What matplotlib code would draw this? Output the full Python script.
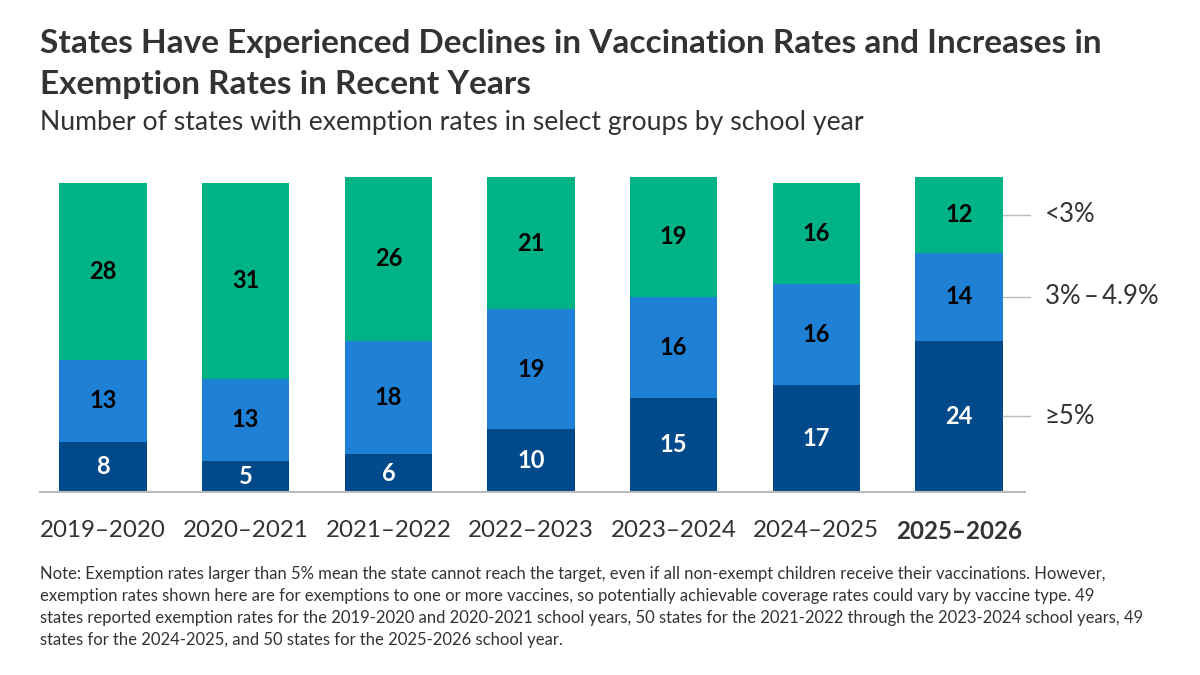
import matplotlib.pyplot as plt
import numpy as np

years = ['2019–2020', '2020–2021', '2021–2022', '2022–2023', '2023–2024', '2024–2025', '2025–2026']
ge5 = [8, 5, 6, 10, 15, 17, 24]
mid = [13, 13, 18, 19, 16, 16, 14]
lt3 = [28, 31, 26, 21, 19, 16, 12]
group_labels = ['≥5%', '3%\u2009–\u20094.9%', '<3%']
colors = ['#00498a', '#1f81d5', '#00b386']

plt.rcParams['font.family'] = ['Lato', 'DejaVu Sans']

fig = plt.figure(figsize=(12, 6.75), dpi=100)
ax = fig.add_axes([40 / 1200, (675 - 492) / 675, 985 / 1200, 315 / 675])

x = np.arange(len(years))
w = 0.61
bottom = np.zeros(len(years))
text_colors = ['white', 'black', 'black']
for vals, c, tc in zip([ge5, mid, lt3], colors, text_colors):
    ax.bar(x, vals, w, bottom=bottom, color=c)
    for i, v in enumerate(vals):
        ax.text(x[i], bottom[i] + v / 2, str(v), ha='center', va='center',
                fontsize=17, fontweight='bold', color=tc)
    bottom += vals

# group labels next to the last bar
b = 0
for v, lab in zip([ge5[-1], mid[-1], lt3[-1]], group_labels):
    yc = b + v / 2
    ax.plot([6.31, 6.5], [yc, yc], color='#bbbbbb', lw=1, clip_on=False)
    ax.text(6.6, yc, lab, ha='left', va='center', fontsize=18.5, color='#333333')
    b += v

ax.set_xlim(-0.4416, 6.4626)
ax.set_ylim(0, 50)
ax.set_yticks([])
ax.set_xticks(x)
ax.set_xticklabels(years, fontsize=17.4, color='#333333')
ax.get_xticklabels()[-1].set_fontweight('bold')
ax.tick_params(axis='x', length=0, pad=20)
for s in ['top', 'right', 'left']:
    ax.spines[s].set_visible(False)
ax.spines['bottom'].set_color('#bbbbbb')
ax.spines['bottom'].set_linewidth(1.5)

fig.text(40 / 1200, 1 - 53 / 675,
         'States Have Experienced Declines in Vaccination Rates and Increases in',
         fontsize=24, fontweight='bold', color='#333333', va='baseline')
fig.text(40 / 1200, 1 - 94 / 675, 'Exemption Rates in Recent Years',
         fontsize=24, fontweight='bold', color='#333333', va='baseline')
fig.text(40 / 1200, 1 - 130 / 675, 'Number of states with exemption rates in select groups by school year',
         fontsize=19.2, color='#333333', va='baseline')
note = ('Note: Exemption rates larger than 5% mean the state cannot reach the target, even if all non-exempt children receive their vaccinations. However,\n'
        'exemption rates shown here are for exemptions to one or more vaccines, so potentially achievable coverage rates could vary by vaccine type. 49\n'
        'states reported exemption rates for the 2019-2020 and 2020-2021 school years, 50 states for the 2021-2022 through the 2023-2024 school years, 49\n'
        'states for the 2024-2025, and 50 states for the 2025-2026 school year.')
fig.text(40 / 1200, 1 - 566 / 675, note, fontsize=12, color='#333333', va='top', linespacing=1.45)

fig.savefig('out.png', dpi=100)
